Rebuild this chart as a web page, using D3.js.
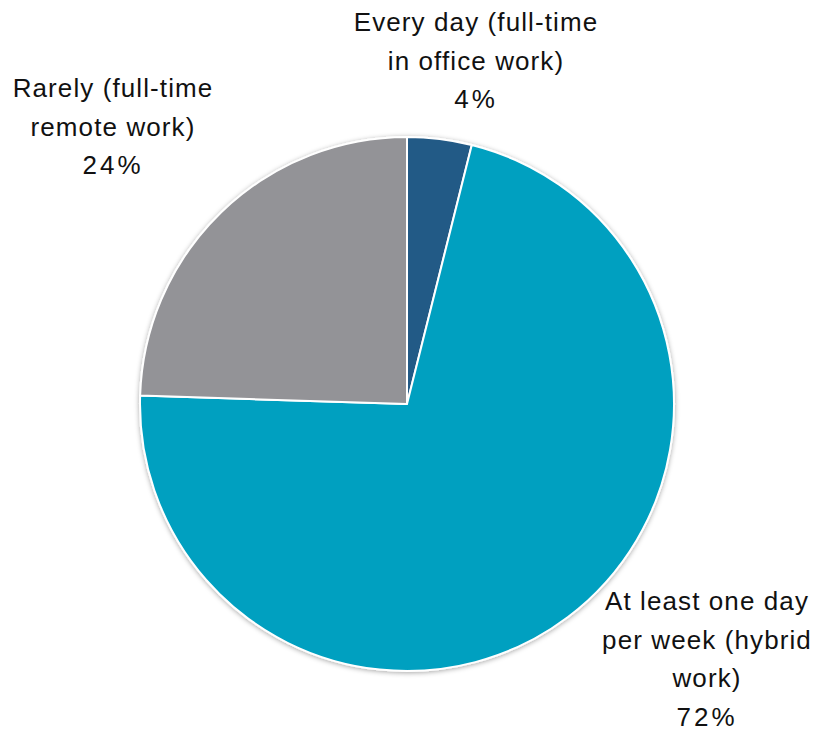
<!DOCTYPE html>
<html><head><meta charset="utf-8">
<script src="https://cdn.jsdelivr.net/npm/d3@7"></script>
<style>body{margin:0;background:#fff}svg{display:block}</style>
</head><body>
<script>
const categories = ["Every day (full-time in office work)", "At least one day per week (hybrid work)", "Rarely (full-time remote work)"];
const values = [3.9, 71.6, 24.5];
const labelLines = [["Every day (full-time", "in office work)", "4%"], ["At least one day", "per week (hybrid", "work)", "72%"], ["Rarely (full-time", "remote work)", "24%"]];
const colors = ["#235a86", "#00a0c0", "#939397"];

const W = 815, H = 730, cx = 407, cy = 404, R = 267;
const svg = d3.select("body").append("svg").attr("width", W).attr("height", H);
const defs = svg.append("defs");
const f = defs.append("filter").attr("id", "sh").attr("x", "-10%").attr("y", "-10%").attr("width", "120%").attr("height", "120%");
f.append("feDropShadow").attr("dx", 0).attr("dy", 1).attr("stdDeviation", 2.5).attr("flood-color", "#000").attr("flood-opacity", 0.35);

const pie = d3.pie().sort(null).value(d => d)(values);
const arc = d3.arc().innerRadius(0).outerRadius(R);
const g = svg.append("g").attr("transform", `translate(${cx},${cy})`);
g.append("g").attr("filter", "url(#sh)").selectAll("path").data(pie).join("path")
  .attr("d", arc).attr("fill", (d, i) => colors[i]).attr("stroke", "#fff").attr("stroke-width", 2).attr("stroke-linejoin", "round");

// label anchor positions (layout, px): center x, first baseline y
const labelAnchor = [[476, 31], [707, 610], [113, 97]];
const lh = 38.5;
labelLines.forEach((lines, i) => {
  const t = svg.append("text").attr("text-anchor", "middle")
    .attr("font-family", "'Liberation Sans', Arial, sans-serif").attr("font-size", 26).attr("fill", "#111");
  lines.forEach((s, j) => {
    t.append("tspan").attr("x", labelAnchor[i][0]).attr("y", labelAnchor[i][1] + j * lh)
      .attr("letter-spacing", /%$/.test(s) ? 3 : 1.1).text(s);
  });
});
</script>
</body></html>
